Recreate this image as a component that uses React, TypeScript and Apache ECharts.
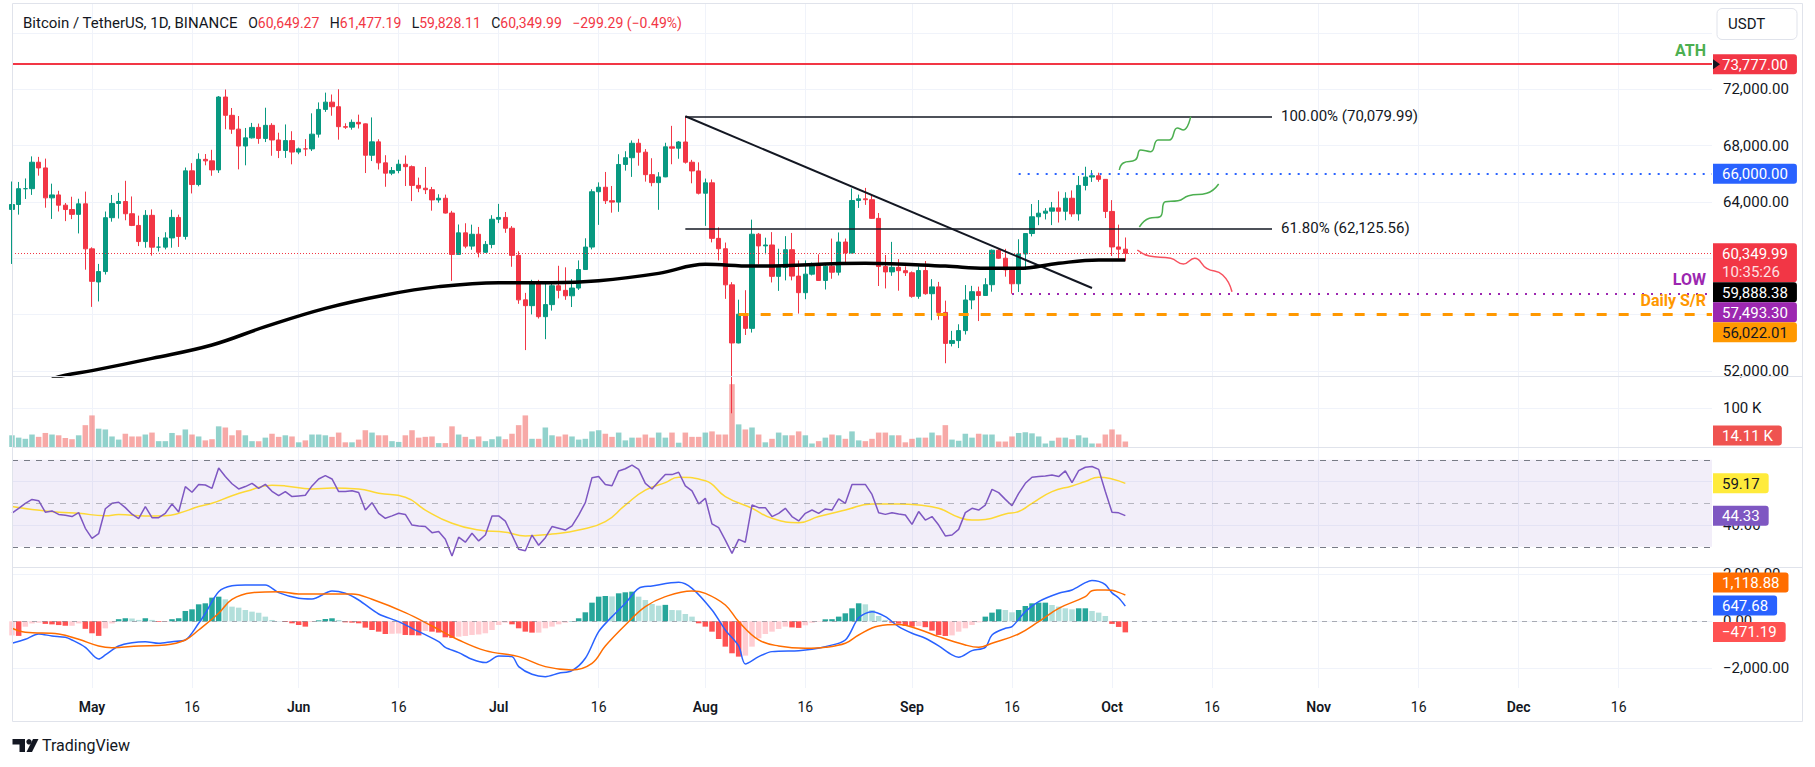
import React, { useEffect, useRef } from 'react';
import * as echarts from 'echarts';

const FONT = 'Roboto, "Noto Sans", sans-serif';
const DAY_MS = 86400000;
const AXIS_ORIGIN = Date.UTC(2024, 4, 1);
const FIRST_CANDLE_DATE = '2024-04-19';

// [open, high, low, close] daily, 2024-04-19 .. 2024-10-03
const candles: number[][] = [
  [63470, 65450, 59600, 63818], [63818, 65419, 63100, 64940], [64941, 65666, 64210, 64941], [64941, 67233, 64500, 66819],
  [66819, 67199, 65865, 66414], [66415, 67075, 63589, 64289], [64290, 65297, 62794, 64498], [64498, 64791, 63322, 63770],
  [63771, 63923, 62639, 63461], [63461, 64370, 62781, 63118], [63118, 64228, 61765, 63866], [63866, 64734, 59191, 60672],
  [60670, 60780, 56552, 58364], [58321, 59602, 56937, 59060], [59060, 63320, 58848, 62882], [62883, 64494, 62599, 63892],
  [63892, 64646, 62822, 64031], [64031, 65500, 62700, 63161], [63162, 64390, 62285, 62334], [62333, 63029, 60866, 61187],
  [61187, 63420, 60750, 63049], [63049, 63470, 60187, 60792], [60793, 61515, 60487, 60793], [60793, 61850, 60632, 61448],
  [61448, 63450, 60750, 62901], [62900, 63099, 60807, 61552], [61553, 66444, 61330, 66207], [66207, 66753, 64603, 65235],
  [65235, 67451, 65107, 67024], [67024, 67400, 66600, 66915], [66915, 67700, 65857, 66274], [66274, 71515, 66060, 71446],
  [71446, 71979, 69162, 70148], [70148, 70666, 68833, 69166], [69167, 70096, 66312, 67969], [67969, 69250, 66600, 68549],
  [68549, 69610, 68500, 69290], [69291, 69562, 68128, 68507], [68507, 70687, 68250, 69436], [69437, 69591, 67278, 68398],
  [68399, 68913, 67113, 67652], [67652, 69500, 67128, 68352], [68352, 69019, 66670, 67540], [67540, 67856, 67386, 67766],
  [67766, 68460, 67257, 67765], [67765, 70288, 67613, 68809], [68809, 71064, 68568, 70567], [70567, 71758, 70390, 71082],
  [71082, 71625, 70119, 70757], [70757, 71997, 68420, 69342], [69342, 69582, 69184, 69305], [69306, 69850, 69129, 69648],
  [69648, 70195, 69210, 69540], [69541, 69564, 66051, 67314], [67314, 69999, 66902, 68263], [68263, 68450, 66303, 66773],
  [66774, 67315, 65078, 66043], [66043, 66478, 65899, 66228], [66228, 66998, 66034, 66676], [66676, 67298, 65130, 66504],
  [66504, 66588, 64060, 65175], [65175, 65727, 64693, 64974], [64975, 66482, 64559, 64869], [64869, 65067, 63379, 64143],
  [64143, 64546, 63944, 64262], [64262, 64521, 63178, 63210], [63211, 63369, 58402, 60277], [60277, 62400, 60239, 61806],
  [61806, 62487, 60712, 60864], [60865, 62389, 60606, 61706], [61707, 62225, 60063, 60427], [60427, 61224, 60383, 60986],
  [60986, 63059, 60712, 62772], [62773, 63861, 62497, 62900], [62900, 63288, 61807, 62135], [62135, 62285, 59400, 60208],
  [60208, 60498, 56771, 57050], [57050, 57546, 53485, 56639], [56639, 58475, 56018, 58231], [58231, 58472, 55724, 55857],
  [55857, 58236, 54260, 56714], [56714, 58296, 56290, 58050], [58050, 59470, 57157, 57725], [57725, 59359, 57052, 57339],
  [57339, 58526, 56542, 57889], [57889, 59850, 57756, 59204], [59204, 61420, 59194, 60797], [60798, 64900, 60632, 64724],
  [64724, 65388, 62373, 65043], [65043, 66128, 63854, 64087], [64087, 65133, 63238, 63987], [63987, 67386, 63300, 66660],
  [66660, 67598, 66222, 67139], [67139, 68366, 65777, 68165], [68166, 68480, 66573, 67532], [67532, 67750, 65442, 65936],
  [65937, 67102, 65111, 65372], [65372, 66112, 63442, 65777], [65778, 68200, 65757, 67912], [67911, 69400, 66676, 67813],
  [67814, 68319, 67066, 68255], [68255, 70079.99, 66720, 66819], [66819, 66987, 65323, 66201], [66201, 66810, 64532, 64619],
  [64620, 65659, 62302, 65357], [65357, 65596, 61130, 61415], [61415, 62198, 59850, 60680], [60677, 61117, 57122, 58116],
  [58116, 58305, 49000, 53991], [53991, 57064, 53962, 56034], [56034, 57736, 54558, 55027], [55027, 62745, 54730, 61710],
  [61710, 61800, 59575, 60880], [60881, 61464, 60287, 60945], [60945, 61858, 58286, 58719], [58719, 60680, 57688, 59354],
  [59355, 61572, 58433, 60609], [60609, 61800, 58433, 58737], [58737, 59849, 56078, 57560], [57560, 59850, 57098, 58874],
  [58874, 59700, 58785, 59491], [59491, 60284, 58408, 58427], [58427, 59617, 57787, 59438], [59438, 61400, 58548, 59013],
  [59014, 61834, 58783, 61157], [61157, 61400, 59724, 60381], [60381, 64955, 60345, 64103], [64103, 64521, 63575, 64220],
  [64220, 64995, 63790, 64158], [64158, 64477, 62800, 62834], [62834, 63213, 58034, 59416], [59416, 60236, 57861, 59034],
  [59035, 61166, 58756, 59359], [59359, 59944, 57700, 59123], [59123, 59432, 58745, 58974], [58974, 59070, 57201, 57301],
  [57301, 59425, 57128, 59132], [59132, 59809, 57415, 57487], [57487, 58520, 55606, 57971], [57971, 58327, 55643, 56160],
  [56160, 56995, 52550, 53962], [53962, 54850, 53746, 54160], [54160, 55318, 53629, 54869], [54869, 58100, 54591, 57042],
  [57042, 58044, 56386, 57631], [57631, 57991, 55545, 57360], [57360, 58588, 57324, 58127], [58127, 60625, 57632, 60571],
  [60571, 60656, 59956, 60005], [60005, 60672, 58696, 59182], [59182, 59210, 57493.3, 58192], [58192, 61350, 57611, 60309],
  [60309, 61786, 59175, 61759], [61759, 63850, 61555, 62947], [62947, 64133, 62350, 63201], [63201, 63559, 62758, 63348],
  [63348, 64000, 62357, 63578], [63578, 64745, 62538, 63339], [63339, 64688, 62700, 64262], [64262, 64817, 62947, 63152],
  [63152, 65839, 62670, 65173], [65173, 66498, 64819, 65769], [65769, 66260, 65422, 65858], [65858, 66076, 65432, 65602],
  [65602, 65618, 62857, 63327], [63327, 64130, 60164, 60805], [60805, 62390, 59996, 60649.27], [60649.27, 61477.19, 59828.11, 60349.99],
];

const volumes: number[] = [
  30000, 24000, 21000, 32000, 26000, 36000, 32000, 30000, 23000, 20000, 30000, 56000,
  81000, 47000, 45000, 27000, 19000, 34000, 27000, 27000, 32000, 37000,
  15000, 15000, 36000, 30000, 45000, 32000, 27000, 17000, 20000, 53000,
  50000, 30000, 43000, 30000, 15000, 15000, 24000, 34000, 26000, 30000,
  27000, 12000, 17000, 32000, 32000, 30000, 26000, 37000, 12000, 12000,
  19000, 43000, 37000, 30000, 30000, 15000, 13000, 30000, 43000, 24000,
  26000, 27000, 10000, 10000, 53000, 32000, 26000, 20000, 27000, 15000,
  20000, 27000, 20000, 34000, 56000, 81000, 21000, 21000, 50000, 30000,
  27000, 32000, 27000, 19000, 21000, 40000, 43000, 34000, 26000, 37000,
  17000, 24000, 24000, 32000, 24000, 37000, 24000, 37000, 11000, 37000,
  26000, 26000, 37000, 40000, 32000, 32000, 161000, 58000, 45000, 50000,
  32000, 12000, 21000, 37000, 30000, 30000, 40000, 30000, 9000, 15000,
  24000, 32000, 30000, 21000, 40000, 17000, 15000, 21000, 37000, 37000,
  30000, 30000, 12000, 21000, 24000, 24000, 37000, 30000, 56000, 19000,
  16000, 34000, 24000, 34000, 32000, 32000, 14000, 14000, 27000, 36000,
  38000, 35000, 27000, 9000, 16000, 24000, 24000, 20000, 30000, 24000,
  9000, 9000, 32000, 45000, 32000, 14110,
];

const rsi: number[] = [
  45.5, 47.7, 50.0, 51.8, 51.2, 45.9, 46.5, 44.9, 44.5, 43.9, 45.7, 38.5,
  33.9, 36.0, 47.5, 50.0, 50.5, 48.0, 45.0, 43.0, 48.5, 43.4,
  43.4, 45.4, 49.7, 46.0, 57.7, 55.1, 58.7, 58.4, 56.9, 66.2,
  62.3, 59.0, 56.6, 57.7, 59.2, 56.9, 58.7, 55.5, 53.5, 55.4,
  53.1, 53.4, 53.7, 58.0, 61.2, 62.7, 61.2, 55.4, 55.4, 55.8,
  55.0, 46.9, 50.3, 45.4, 43.1, 44.2, 45.4, 44.9, 40.0, 39.6,
  39.3, 36.5, 37.0, 33.5, 25.8, 34.4, 32.1, 36.2, 32.7, 35.4,
  44.2, 44.2, 41.8, 35.4, 28.9, 28.2, 35.4, 30.7, 34.2, 39.3,
  38.5, 37.7, 39.6, 44.6, 50.3, 61.8, 62.3, 58.7, 58.1, 64.9,
  65.9, 67.6, 65.6, 59.2, 56.6, 60.0, 63.3, 63.2, 64.3, 58.0,
  55.7, 49.7, 52.3, 40.5, 38.8, 33.1, 27.0, 33.4, 32.1, 49.2,
  48.0, 48.0, 43.9, 45.4, 47.7, 43.9, 41.9, 45.4, 46.9, 45.4,
  47.4, 46.9, 52.0, 50.0, 58.7, 58.7, 58.7, 54.1, 45.7, 44.9,
  45.7, 45.1, 44.6, 40.3, 46.2, 42.3, 43.9, 40.0, 35.0, 35.4,
  38.0, 45.7, 47.7, 46.9, 49.2, 56.4, 54.9, 51.8, 48.9, 54.6,
  59.2, 62.0, 62.3, 62.6, 63.0, 62.3, 64.9, 59.5, 65.0, 66.6,
  66.9, 65.6, 55.4, 45.9, 45.6, 44.33,
];

// [day from 2024-05-01, value]
const rsiMa: number[][] = [
  [-12, 48.5], [-9, 47.2], [-5, 45.9], [-2, 45.4], [2, 44.3], [4, 44.8], [8, 44.2], [11, 44.3], [13, 45.4],
  [16, 48.5], [18, 50], [21, 53.5], [23, 55.4], [27, 58.3], [29, 58], [33, 56.6], [36, 57], [40, 56.6],
  [43, 54.6], [47, 52.8], [50, 46.9], [54, 40.8], [58, 37.7], [62, 36.7], [65, 35], [69, 35.9], [73, 37.7],
  [77, 41.6], [80, 49.2], [83, 56.1], [86, 59.5], [88, 62], [92, 60.4], [95, 53.1], [99, 47.7], [102, 43.1],
  [106, 41.1], [109, 43.9], [113, 46.9], [117, 49.7], [121, 49.7], [124, 49.2], [127, 47.7], [130, 43.6],
  [132, 42.3], [134, 42.6], [137, 45.1], [139, 46.2], [141, 50], [144, 55.4], [147, 58], [149, 60],
  [151, 62], [153, 61.2], [155, 59.17],
];

const macdLine: number[][] = [
  [-12, -936], [-10, -766], [-8, -539], [-6, -624], [-4, -681], [-3, -794], [-1, -1106], [1, -1602], [2, -1432],
  [4, -1049], [6, -908], [8, -865], [10, -936], [12, -865], [14, -794], [16, -85], [17, 340], [19, 1262],
  [21, 1517], [23, 1546], [26, 1546], [28, 1220], [31, 978], [33, 950], [36, 1290], [38, 1191], [40, 907],
  [43, 312], [46, -14], [48, -298], [52, -865], [53, -1106], [55, -1333], [57, -1617], [59, -1758], [61, -1475],
  [63, -1503], [64, -1928], [66, -2255], [68, -2354], [70, -2212], [72, -2099], [74, -1574], [76, -440],
  [78, 199], [80, 766], [82, 1404], [84, 1503], [88, 1659], [90, 1404], [93, 482], [95, -369], [97, -1049],
  [98, -1815], [100, -1503], [102, -1290], [106, -1248], [108, -1191], [110, -1078], [113, -794], [115, 150],
  [117, 411], [119, 200], [121, -227], [123, -510], [125, -723], [127, -1049], [129, -1432], [130, -1531],
  [132, -1248], [134, -1106], [135, -581], [137, -298], [138, -227], [140, 411], [142, 837], [145, 1191],
  [147, 1333], [149, 1645], [150, 1740], [151, 1700], [152, 1560], [153, 1210], [154, 990], [155, 647.68],
];

const signalLine: number[][] = [
  [-12, -298], [-10, -468], [-5, -539], [-2, -766], [1, -1049], [3, -1120], [7, -1049], [11, -1007], [14, -794],
  [16, -369], [19, 340], [21, 936], [24, 1220], [28, 1262], [31, 1163], [34, 1163], [39, 1163], [42, 936],
  [47, 369], [51, -199], [55, -794], [59, -1248], [64, -1503], [68, -1928], [72, -2070], [75, -1787],
  [77, -1049], [80, -156], [83, 624], [86, 1049], [90, 1290], [92, 1191], [95, 695], [97, -14], [100, -794],
  [103, -1049], [107, -1149], [110, -1106], [113, -936], [115, -581], [118, -199], [121, -140], [124, -340],
  [127, -652], [131, -1007], [133, -1106], [135, -936], [139, -539], [142, -14], [145, 553], [149, 1049],
  [150, 1300], [151, 1330], [152, 1335], [153, 1320], [154, 1230], [155, 1118.88],
];

const macdHist: number[] = [
  -600, -620, -230, -90, -60, -110, -130, -160, -190, -190, -90, -320,
  -510, -620, -300, -90, 90, 130, 120, 60, 130, 60,
  -30, -30, 90, 130, 440, 510, 723, 766, 1007, 1049,
  936, 624, 581, 482, 411, 369, 199, 57, 10, -30,
  -85, -156, -227, -28, 40, 99, 128, 57, -43, -57,
  -85, -269, -369, -440, -539, -530, -520, -581, -590, -600,
  -411, -440, -480, -681, -709, -652, -624, -581, -560, -510,
  -369, -156, -57, -128, -298, -440, -482, -482, -298, -227,
  -128, -57, 14, 128, 383, 794, 1049, 1078, 1060, 1191,
  1234, 1262, 1049, 907, 737, 666, 700, 482, 470, 312,
  199, -85, -227, -440, -752, -1078, -1361, -1503, -1461, -1078,
  -723, -539, -440, -326, -227, -260, -280, -170, -60, -20,
  85, 90, 199, 340, 553, 766, 723, 482, 227, 60,
  -60, -100, -199, -230, -200, -250, -397, -581, -624, -600,
  -440, -298, -156, -43, 199, 369, 510, 482, 383, 482,
  652, 766, 794, 794, 695, 624, 553, 510, 553, 553,
  440, 370, 225, -110, -240, -471.19,
];

const sma200: number[][] = [
  [-6, 51450], [-4, 51700], [0, 52030], [9, 52900], [18, 53850], [26, 55150], [35, 56450], [44, 57400],
  [52, 57990], [61, 58270], [69, 58270], [76, 58410], [85, 58930], [92, 59570], [99, 59450], [116, 59650],
  [128, 59450], [134, 59290], [139, 59290], [145, 59650], [151, 59880], [155, 59888.38],
];

const projectionUp: number[][] = [
  [154.1, 66267], [154.7, 66764], [156.5, 66977], [157.3, 67686], [158.8, 67566], [159.9, 68396],
  [161.6, 68396], [162.8, 69248], [163.7, 69106], [164.8, 70050],
];
const projectionMid: number[][] = [
  [157.1, 62221], [158.6, 62839], [160.2, 62952], [161.0, 64017], [162.9, 64088], [164.5, 64443],
  [167.2, 64613], [169.0, 65273],
];
const projectionDown: number[][] = [
  [156.8, 60589], [158.6, 60163], [161.8, 60000], [163.7, 59595], [165.4, 60000], [167.2, 59290],
  [169.6, 58815], [171.0, 57630],
];

const tickDates = [
  '2024-05-01', '2024-05-16', '2024-06-01', '2024-06-16', '2024-07-01', '2024-07-16', '2024-08-01', '2024-08-16',
  '2024-09-01', '2024-09-16', '2024-10-01', '2024-10-16', '2024-11-01', '2024-11-16', '2024-12-01', '2024-12-16',
];
const tickLabels = ['May', '16', 'Jun', '16', 'Jul', '16', 'Aug', '16', 'Sep', '16', 'Oct', '16', 'Nov', '16', 'Dec', '16'];

const priceTicks = [52000, 56000, 60000, 64000, 68000, 72000, 76000];
const priceLabels = [52000, 64000, 68000, 72000];
const volumeTicks = [100000];
const rsiTicks = [40, 60];
const macdTicks = [-2000, 0, 2000];

const athPrice = 73777;
const resistancePrice = 66000;
const lowPrice = 57493.3;
const supportPrice = 56022.01;
const fibPrices = [70079.99, 62125.56];
const fibRatios = ['100.00%', '61.80%'];
const swingHighDay = 89;
const fibEndDay = 177;
const trendEnd = [150, 57892];
const resistanceStartDay = 139;
const lowStartDay = 138;
const supportStartDay = 97;
const countdown = '10:35:26';

const headerTitle = 'Bitcoin / TetherUS, 1D, BINANCE';
const headerKeys = ['O', 'H', 'L', 'C'];
const headerValues = ['60,649.27', '61,477.19', '59,828.11', '60,349.99'];
const headerChange = '−299.29 (−0.49%)';

// layout
const GRID_LEFT = 12;
const GRID_RIGHT = 103;
const PANES = [
  { top: 4, height: 372 },
  { top: 376, height: 71 },
  { top: 447, height: 120 },
  { top: 567, height: 121 },
];
const X_MIN = -12;
const X_MAX = 243;

const dayOf = (d: string) => (Date.parse(d) - AXIS_ORIGIN) / DAY_MS;
const firstDay = dayOf(FIRST_CANDLE_DATE);
const tickDays = tickDates.map(dayOf);

const fmtNum = (v: number) =>
  (v < 0 ? '−' : '') + Math.abs(v).toLocaleString('en-US', { minimumFractionDigits: 2, maximumFractionDigits: 2 });

function buildOption() {
  const closes = candles.map((c) => c[3]);
  const candleData = candles.map((c, i) => [firstDay + i, c[0], c[3], c[2], c[1]]);
  const volData = volumes.map((v, i) => ({
    value: [firstDay + i, v],
    itemStyle: { color: closes[i] >= candles[i][0] ? 'rgba(38,166,154,0.5)' : 'rgba(239,83,80,0.5)' },
  }));
  const histData = macdHist.map((v, i) => {
    const p = i > 0 ? macdHist[i - 1] : v;
    const color = v >= 0 ? (v >= p ? '#26a69a' : '#b2dfdb') : v < p ? '#ff5252' : '#ffcdd2';
    return { value: [firstDay + i, v], itemStyle: { color } };
  });

  const xAxes = PANES.map((_, i) => ({
    type: 'value',
    gridIndex: i,
    min: X_MIN,
    max: X_MAX,
    axisLine: { show: false },
    axisTick: { show: false, customValues: tickDays },
    axisLabel:
      i === 3
        ? {
            show: true,
            customValues: tickDays,
            margin: 12,
            color: '#131722',
            fontSize: 14,
            fontFamily: FONT,
            formatter: (v: number) => {
              const k = tickDays.indexOf(v);
              const l = k >= 0 ? tickLabels[k] : '';
              return /\d/.test(l) ? l : `{m|${l}}`;
            },
            rich: { m: { fontWeight: 600, fontSize: 14, color: '#131722', fontFamily: FONT } },
          }
        : { show: false },
    splitLine: { show: true, lineStyle: { color: '#f0f3fa', width: 1 } },
  }));

  const yAxis = (i: number, min: number, max: number, ticks: number[], labels: number[], fmt: (v: number) => string) => ({
    type: 'value',
    gridIndex: i,
    position: 'right',
    min,
    max,
    axisLine: { show: false },
    axisTick: { show: false, customValues: ticks },
    axisLabel: {
      show: true,
      customValues: labels,
      formatter: fmt,
      align: 'left',
      margin: 11,
      color: '#131722',
      fontSize: 15,
      fontFamily: FONT,
    },
    splitLine: { show: true, lineStyle: { color: '#f0f3fa', width: 1 } },
  });

  const hLine = (start: number, price: number, color: string, width: number, dash: any, label?: any) => [
    {
      coord: [start, price],
      lineStyle: { color, width, type: dash },
      label: label || { show: false },
    },
    { coord: [X_MAX, price] },
  ];
  const endLabel = (text: string, color: string) => ({
    show: true,
    position: 'insideEndTop',
    formatter: text,
    color,
    fontSize: 16,
    fontWeight: 'bold',
    fontFamily: FONT,
    distance: 6,
  });

  return {
    animation: false,
    backgroundColor: '#ffffff',
    grid: PANES.map((p) => ({ left: GRID_LEFT, right: GRID_RIGHT, top: p.top, height: p.height })),
    xAxis: xAxes,
    yAxis: [
      yAxis(0, 51647, 78048, priceTicks, priceLabels, (v) => fmtNum(v)),
      yAxis(1, 0, 182050, volumeTicks, volumeTicks, (v) => `${v / 1000} K`),
      yAxis(2, 20.7, 75.9, rsiTicks, [40], (v) => v.toFixed(2)),
      yAxis(3, -2838, 2311, macdTicks, macdTicks, (v) => fmtNum(v)),
    ],
    series: [
      {
        type: 'candlestick',
        xAxisIndex: 0,
        yAxisIndex: 0,
        data: candleData,
        encode: { x: 0, y: [1, 2, 3, 4] },
        barWidth: 5,
        clip: true,
        itemStyle: { color: '#089981', color0: '#f23645', borderColor: '#089981', borderColor0: '#f23645', borderWidth: 1 },
        markLine: {
          silent: true,
          symbol: ['none', 'none'],
          animation: false,
          data: [
            { yAxis: athPrice, lineStyle: { color: '#f23645', width: 2, type: 'solid' }, label: endLabel('ATH', '#4caf50') },
            { yAxis: closes[closes.length - 1], lineStyle: { color: '#f23645', width: 1, type: [1, 2] }, label: { show: false } },
            hLine(resistanceStartDay, resistancePrice, '#2962ff', 2, [2, 7]),
            hLine(lowStartDay, lowPrice, '#9c27b0', 2, [2, 7], endLabel('LOW', '#9c27b0')),
            hLine(supportStartDay, supportPrice, '#ff9800', 3, [10, 12], endLabel('Daily S/R', '#ff9800')),
            ...fibPrices.map((p, k) => [
              {
                coord: [swingHighDay, p],
                lineStyle: { color: '#131722', width: 1.5, type: 'solid' },
                label: {
                  show: true,
                  position: 'end',
                  distance: 9,
                  formatter: `${fibRatios[k]} (${fmtNum(p)})`,
                  color: '#131722',
                  fontSize: 15,
                  fontFamily: FONT,
                },
              },
              { coord: [fibEndDay, p] },
            ]),
            [
              { coord: [swingHighDay, fibPrices[0]], lineStyle: { color: '#131722', width: 2, type: 'solid' }, label: { show: false } },
              { coord: trendEnd },
            ],
          ],
        },
        z: 3,
      },
      {
        type: 'line',
        xAxisIndex: 0,
        yAxisIndex: 0,
        data: sma200,
        smooth: 0.4,
        showSymbol: false,
        lineStyle: { color: '#000000', width: 3.5 },
        z: 5,
      },
      ...[
        [projectionUp, '#4caf50'],
        [projectionMid, '#4caf50'],
        [projectionDown, '#f7525f'],
      ].map(([d, c]) => ({
        type: 'line',
        xAxisIndex: 0,
        yAxisIndex: 0,
        data: d,
        smooth: 0.5,
        showSymbol: false,
        lineStyle: { color: c, width: 1.5 },
        z: 5,
      })),
      {
        type: 'bar',
        xAxisIndex: 1,
        yAxisIndex: 1,
        data: volData,
        barWidth: 5.5,
      },
      {
        type: 'line',
        xAxisIndex: 2,
        yAxisIndex: 2,
        data: rsi.map((v, i) => [firstDay + i, v]),
        showSymbol: false,
        lineStyle: { color: '#7e57c2', width: 1.5 },
        markArea: {
          silent: true,
          itemStyle: { color: 'rgba(126,87,194,0.1)' },
          data: [[{ yAxis: 30 }, { yAxis: 70 }]],
        },
        markLine: {
          silent: true,
          symbol: ['none', 'none'],
          label: { show: false },
          data: [
            { yAxis: 70, lineStyle: { color: '#787b86', width: 1, type: [6, 6] } },
            { yAxis: 50, lineStyle: { color: 'rgba(120,123,134,0.5)', width: 1, type: [6, 6] } },
            { yAxis: 30, lineStyle: { color: '#787b86', width: 1, type: [6, 6] } },
          ],
        },
        z: 4,
      },
      {
        type: 'line',
        xAxisIndex: 2,
        yAxisIndex: 2,
        data: rsiMa,
        smooth: 0.5,
        showSymbol: false,
        lineStyle: { color: '#fdd835', width: 1.5 },
        z: 3,
      },
      {
        type: 'bar',
        xAxisIndex: 3,
        yAxisIndex: 3,
        data: histData,
        barWidth: 5.5,
      },
      {
        type: 'line',
        xAxisIndex: 3,
        yAxisIndex: 3,
        data: macdLine,
        smooth: 0.3,
        showSymbol: false,
        lineStyle: { color: '#2962ff', width: 1.5 },
        markLine: {
          silent: true,
          symbol: ['none', 'none'],
          label: { show: false },
          data: [{ yAxis: 0, lineStyle: { color: 'rgba(120,123,134,0.6)', width: 1, type: [5, 5] } }],
        },
        z: 4,
      },
      {
        type: 'line',
        xAxisIndex: 3,
        yAxisIndex: 3,
        data: signalLine,
        smooth: 0.4,
        showSymbol: false,
        lineStyle: { color: '#ff6d00', width: 1.5 },
        z: 4,
      },
    ],
  };
}

function buildGraphics(chart: any) {
  const W = chart.getWidth();
  const plotRight = W - GRID_RIGHT;
  const frameRight = plotRight + 90;
  const ctx = document.createElement('canvas').getContext('2d') as CanvasRenderingContext2D;
  const textW = (t: string, size = 15) => {
    ctx.font = `${size}px Roboto`;
    return ctx.measureText(t).width;
  };
  const toY = (g: number, v: number) => (chart.convertToPixel({ gridIndex: g }, [0, v]) as number[])[1];
  const els: any[] = [];

  // frame and pane separators
  els.push({
    type: 'rect',
    silent: true,
    z: 50,
    shape: { x: GRID_LEFT + 0.5, y: 3.5, width: frameRight - GRID_LEFT, height: 718 },
    style: { fill: 'none', stroke: '#e0e3eb', lineWidth: 1 },
  });
  PANES.slice(1).forEach((p) => {
    els.push({
      type: 'line',
      silent: true,
      z: 50,
      shape: { x1: GRID_LEFT, y1: p.top + 0.5, x2: frameRight, y2: p.top + 0.5 },
      style: { stroke: '#e0e3eb', lineWidth: 1 },
    });
  });

  // header
  const parts = headerKeys.map((k, i) => `{k|${k}}{v|${headerValues[i]}}`).join('\u00a0\u00a0\u00a0');
  els.push({
    type: 'text',
    z: 60,
    x: 23,
    y: 23,
    style: {
      text: `{t|${headerTitle}}\u00a0\u00a0\u00a0${parts}\u00a0\u00a0\u00a0{v|${headerChange}}`,
      verticalAlign: 'middle',
      align: 'left',
      fontSize: 14,
      fontFamily: FONT,
      rich: {
        t: { fill: '#131722', color: '#131722', fontSize: 15, fontFamily: FONT },
        k: { fill: '#131722', color: '#131722', fontSize: 14, fontFamily: FONT },
        v: { fill: '#f23645', color: '#f23645', fontSize: 14, fontFamily: FONT },
      },
    },
  });

  // USDT box
  els.push({
    type: 'rect',
    z: 60,
    shape: { x: plotRight + 5, y: 8.5, width: 80, height: 31, r: 5 },
    style: { fill: '#ffffff', stroke: '#e0e3eb', lineWidth: 1 },
  });
  els.push({
    type: 'text',
    z: 61,
    x: plotRight + 16,
    y: 24,
    style: { text: 'USDT', fill: '#131722', fontSize: 15, fontFamily: FONT, verticalAlign: 'middle', align: 'left' },
  });

  const drawTag = (top: number, lines: string[], bg: string, fg: string, fg2?: string) => {
    const h = lines.length > 1 ? 39 : 20;
    const w = Math.max(...lines.map((l) => textW(l))) + 18;
    els.push({
      type: 'rect',
      z: 100,
      shape: { x: plotRight + 1, y: top, width: w, height: h, r: [0, 3, 3, 0] },
      style: { fill: bg },
    });
    lines.forEach((l, k) => {
      els.push({
        type: 'text',
        z: 101,
        x: plotRight + 10,
        y: top + 10.5 + k * 18.5,
        style: {
          text: l,
          fill: k ? fg2 || fg : fg,
          fontSize: 15,
          fontFamily: FONT,
          verticalAlign: 'middle',
          align: 'left',
        },
      });
    });
    return h;
  };

  // price tags, pushed downward when they collide
  const lastClose = candles[candles.length - 1][3];
  const lastSma = sma200[sma200.length - 1][1];
  const priceTags = [
    { v: athPrice, lines: [fmtNum(athPrice)], bg: '#f23645', fg: '#ffffff' },
    { v: resistancePrice, lines: [fmtNum(resistancePrice)], bg: '#2962ff', fg: '#ffffff' },
    { v: lastClose, lines: [fmtNum(lastClose), countdown], bg: '#f23645', fg: '#ffffff', fg2: '#fde0e2' },
    { v: lastSma, lines: [fmtNum(lastSma)], bg: '#000000', fg: '#ffffff' },
    { v: lowPrice, lines: [fmtNum(lowPrice)], bg: '#9c27b0', fg: '#ffffff' },
    { v: supportPrice, lines: [fmtNum(supportPrice)], bg: '#ff9800', fg: '#131722' },
  ]
    .map((t) => ({ ...t, y: toY(0, t.v) }))
    .sort((a, b) => a.y - b.y);
  let prevBottom = -Infinity;
  priceTags.forEach((t, idx) => {
    const top = Math.max(t.y - 10, prevBottom);
    const h = drawTag(top, t.lines, t.bg, t.fg, (t as any).fg2);
    if (idx === 0) {
      els.push({
        type: 'polygon',
        z: 102,
        shape: { points: [[plotRight + 1, t.y - 5], [plotRight + 8, t.y], [plotRight + 1, t.y + 5]] },
        style: { fill: '#131722' },
      });
    }
    prevBottom = top + h;
  });

  // volume tag (kept inside pane)
  const lastVol = volumes[volumes.length - 1];
  const volPaneBottom = PANES[1].top + PANES[1].height;
  const vy = Math.min(toY(1, lastVol), volPaneBottom - 11.5);
  drawTag(vy - 10, [`${(lastVol / 1000).toFixed(2)} K`], '#ef5350', '#ffffff');

  // RSI tags
  const lastRsi = rsi[rsi.length - 1];
  const lastRsiMa = rsiMa[rsiMa.length - 1][1];
  drawTag(toY(2, lastRsiMa) - 10, [lastRsiMa.toFixed(2)], '#ffeb3b', '#131722');
  drawTag(toY(2, lastRsi) - 10, [lastRsi.toFixed(2)], '#7e57c2', '#ffffff');

  // MACD tags, pushed upward when they collide
  const macdTags = [
    { v: signalLine[signalLine.length - 1][1], bg: '#ff6d00' },
    { v: macdLine[macdLine.length - 1][1], bg: '#2962ff' },
    { v: macdHist[macdHist.length - 1], bg: '#ff5252' },
  ]
    .map((t) => ({ ...t, y: toY(3, t.v) }))
    .sort((a, b) => b.y - a.y);
  let prevTop = Infinity;
  macdTags.forEach((t) => {
    const bottom = Math.min(t.y + 10.5, prevTop - 2);
    drawTag(bottom - 21, [fmtNum(t.v)], t.bg, '#ffffff');
    prevTop = bottom - 21;
  });

  // TradingView logo
  els.push({
    type: 'group',
    z: 60,
    children: [
      {
        type: 'polygon',
        shape: { points: [[12.5, 739], [25, 739], [25, 752], [19.5, 752], [19.5, 744.5], [12.5, 744.5]] },
        style: { fill: '#131722' },
      },
      { type: 'circle', shape: { cx: 29, cy: 741.8, r: 2.7 }, style: { fill: '#131722' } },
      {
        type: 'polygon',
        shape: { points: [[33, 739], [38.5, 739], [32, 752], [26.5, 752]] },
        style: { fill: '#131722' },
      },
    ],
  });
  els.push({
    type: 'text',
    z: 60,
    x: 42,
    y: 745.5,
    style: { text: 'TradingView', fill: '#131722', fontSize: 16, fontFamily: FONT, verticalAlign: 'middle', align: 'left' },
  });

  return els;
}

export default function App() {
  const ref = useRef<HTMLDivElement>(null);
  useEffect(() => {
    document.body.style.margin = '0';
    const chart = echarts.init(ref.current as HTMLDivElement, null, { renderer: 'svg' });
    chart.setOption(buildOption() as any);
    chart.setOption({ graphic: buildGraphics(chart) } as any);
    return () => chart.dispose();
  }, []);
  return <div ref={ref} style={{ width: 1815, height: 767 }} />;
}
